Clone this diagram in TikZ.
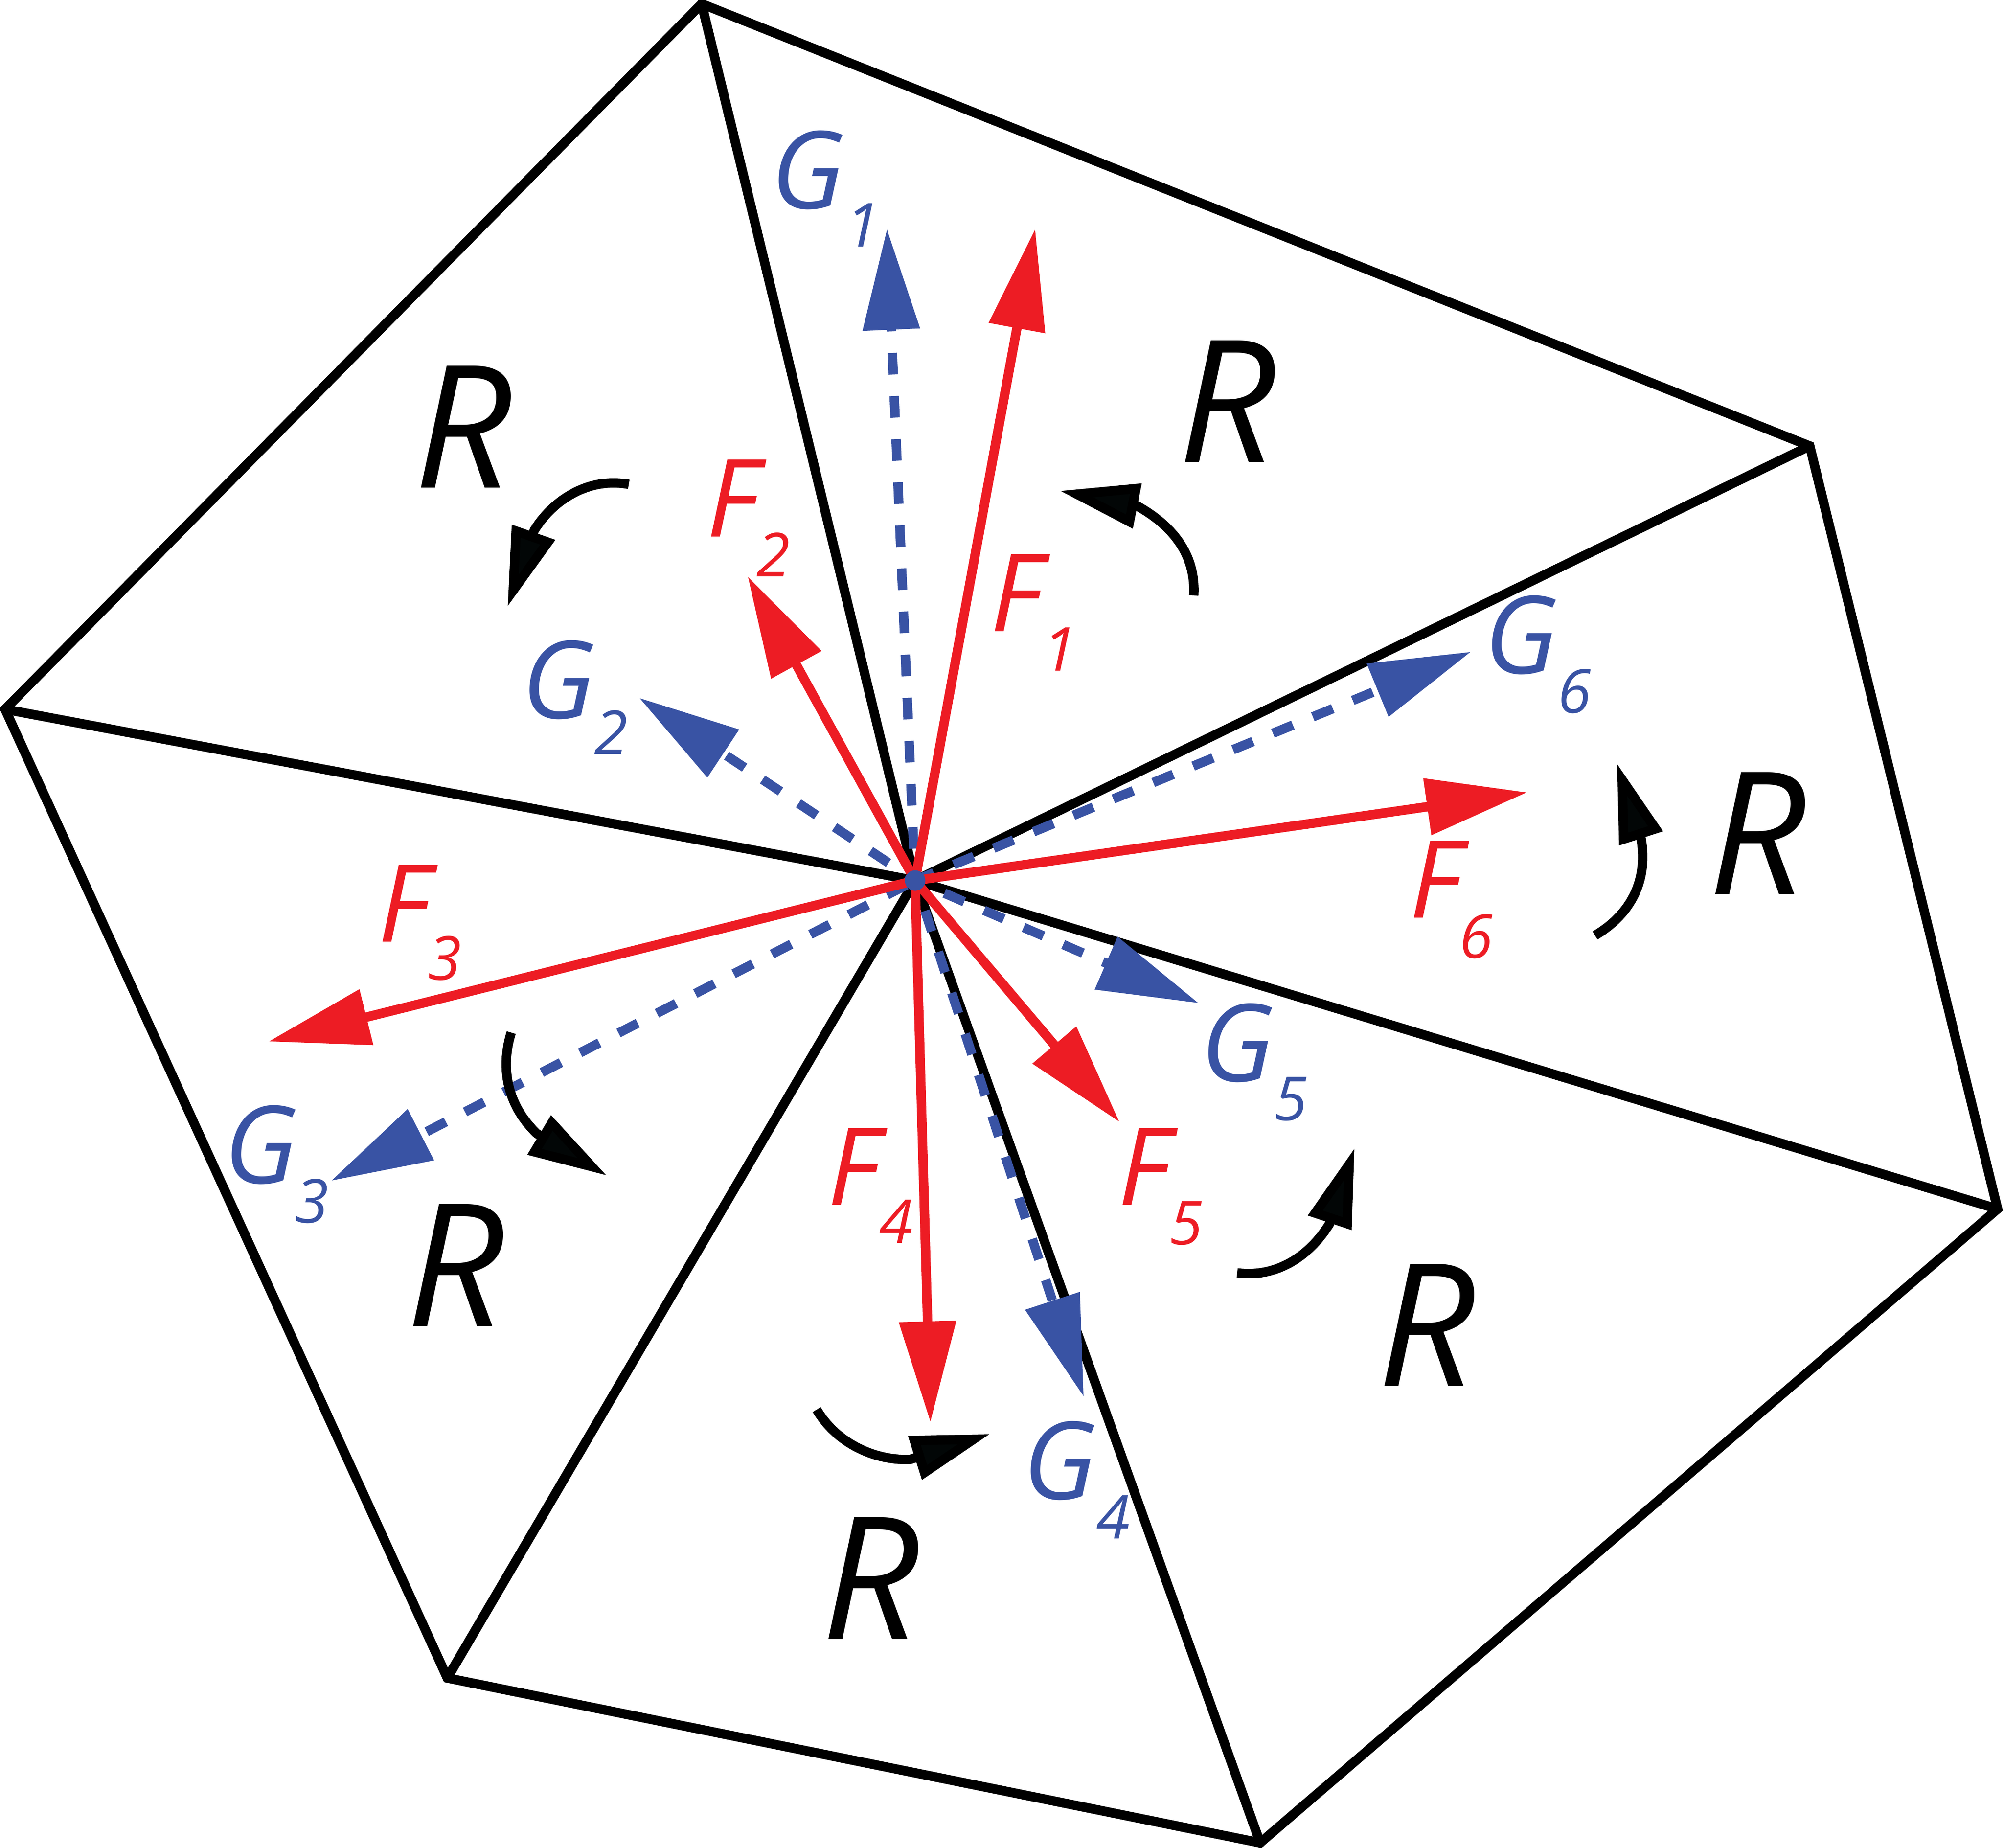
\documentclass[tikz,border=0pt]{standalone}
\usepackage{fontspec}
\setmainfont{Open Sans}
\usetikzlibrary{arrows.meta}
\definecolor{fred}{HTML}{ED1C24}
\definecolor{gblue}{HTML}{3953A4}
\definecolor{kblack}{HTML}{020606}
\tikzset{
  edge/.style={draw=black,line width=2.1pt,line cap=round},
  force/.style={draw=fred,line width=2.1pt,-{Triangle[length=7.9mm,width=4.3mm,fill=fred]}},
  gforce/.style={draw=gblue,line width=2.1pt,dash pattern=on 4.8pt off 4.8pt,-{Triangle[length=7.9mm,width=4.3mm,fill=gblue]}},
  turn/.style={draw=black,line width=2.1pt,-{Triangle[length=6.2mm,width=3.4mm,fill=kblack]}},
  rlab/.style={font=\fontsize{38}{38}\selectfont\itshape,text=black,inner sep=0pt},
  flab/.style={font=\fontsize{24}{24}\selectfont\itshape,text=fred,inner sep=0pt},
  glab/.style={font=\fontsize{24}{24}\selectfont\itshape,text=gblue,inner sep=0pt},
  fsub/.style={font=\fontsize{13.5}{13.5}\selectfont\itshape,text=fred,inner sep=0pt},
  gsub/.style={font=\fontsize{13.5}{13.5}\selectfont\itshape,text=gblue,inner sep=0pt},
}
\begin{document}
\begin{tikzpicture}[x=0.01cm,y=-0.01cm]
\useasboundingbox (0,0) rectangle (1568,1446);
\coordinate (c) at (716,689);
\coordinate (v1) at (549,3);
\coordinate (v2) at (1416,349);
\coordinate (v3) at (1563,946);
\coordinate (v4) at (986,1442);
\coordinate (v5) at (350,1313);
\coordinate (v6) at (4,555);
\draw[edge,line join=miter] (v1)--(v2)--(v3)--(v4)--(v5)--(v6)--cycle;
\foreach \v in {v1,v2,v3,v4,v5,v6} \draw[edge] (c)--(\v);
% G
\coordinate (g1) at (694,179);
\coordinate (g2) at (500,546);
\coordinate (g3) at (259,924);
\coordinate (g4) at (848,1093);
\coordinate (g5) at (938,785);
\coordinate (g6) at (1151,510);
\foreach \g/\p in {g1/2.5pt,g2/2.5pt,g3/7.4pt,g4/2.5pt,g5/2.5pt,g6/0.3pt} \draw[gforce,dash phase=\p] (c)--(\g);
% F
\coordinate (f1) at (810,179);
\coordinate (f2) at (585,451);
\coordinate (f3) at (210,815);
\coordinate (f4) at (728,1113);
\coordinate (f5) at (876,878);
\coordinate (f6) at (1195,620);
\foreach \f in {f1,f2,f3,f4,f5,f6} \draw[force] (c)--(\f);
\fill[gblue] (c) circle (8);
% rotation arrows
\coordinate (a1s) at (934,466); \coordinate (a1b) at (890,396); \coordinate (a1e) at (829,384);
\draw[turn] (a1s) .. controls (936,432) and (915,410) .. (a1b) -- (a1e);
\coordinate (a2s) at (492,379); \coordinate (a2b) at (418,415); \coordinate (a2e) at (397,475);
\draw[turn] (a2s) .. controls (460,373) and (432,392) .. (a2b) -- (a2e);
\coordinate (a3s) at (400,808); \coordinate (a3b) at (420,887); \coordinate (a3e) at (475,920);
\draw[turn] (a3s) .. controls (390,840) and (400,868) .. (a3b) -- (a3e);
\coordinate (a4s) at (639,1103); \coordinate (a4b) at (712,1142); \coordinate (a4e) at (775,1122);
\draw[turn] (a4s) .. controls (655,1130) and (685,1143) .. (a4b) -- (a4e);
\coordinate (a5s) at (968,996); \coordinate (a5b) at (1040,958); \coordinate (a5e) at (1060,898);
\draw[turn] (a5s) .. controls (1000,1000) and (1025,982) .. (a5b) -- (a5e);
\coordinate (a6s) at (1248,732); \coordinate (a6b) at (1284,656); \coordinate (a6e) at (1265,597);
\draw[turn] (a6s) .. controls (1275,716) and (1290,690) .. (a6b) -- (a6e);
% labels
\node[rlab] (r1) at (960,314) {R};
\node[rlab] (r2) at (362,334) {R};
\node[rlab] (r3) at (356,990) {R};
\node[rlab] (r4) at (681,1235) {R};
\node[rlab] (r5) at (1116,1037) {R};
\node[rlab] (r6) at (1375,652) {R};
\node[glab] (G1) at (632,133) {G};
\node[gsub] (G1s) at (675,176) {1};
\node[glab] (G2) at (437,532) {G};
\node[gsub] (G2s) at (478,573) {2};
\node[glab] (G3) at (204,896) {G};
\node[gsub] (G3s) at (244,940) {3};
\node[glab] (G4) at (829,1143) {G};
\node[gsub] (G4s) at (871,1187) {4};
\node[glab] (G5) at (968,816) {G};
\node[gsub] (G5s) at (1010,860) {5};
\node[glab] (G6) at (1190,497) {G};
\node[gsub] (G6s) at (1232,541) {6};
\node[flab] (F1) at (795,464) {F};
\node[fsub] (F1s) at (829,508) {1};
\node[flab] (F2) at (573,390) {F};
\node[fsub] (F2s) at (605,434) {2};
\node[flab] (F3) at (316,707) {F};
\node[fsub] (F3s) at (348,750) {3};
\node[flab] (F4) at (668,913) {F};
\node[fsub] (F4s) at (701,956) {4};
\node[flab] (F5) at (895,913) {F};
\node[fsub] (F5s) at (928,957) {5};
\node[flab] (F6) at (1123,688) {F};
\node[fsub] (F6s) at (1155,733) {6};
\end{tikzpicture}
\end{document}
